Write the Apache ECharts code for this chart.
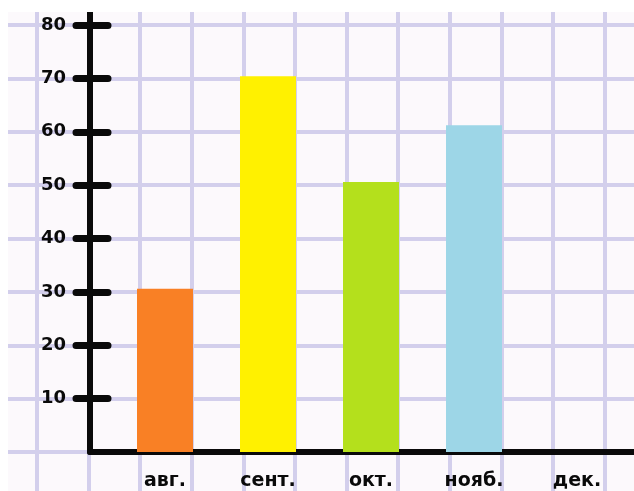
<!DOCTYPE html>
<html lang="ru">
<head>
  <meta charset="utf-8">
  <title>Диаграмма по месяцам</title>
  <style>
    html, body { margin: 0; padding: 0; background: #fff; }
    #main { width: 634px; height: 491px; }
  </style>
</head>
<body>
  <div id="main"></div>
  <script src="https://cdn.jsdelivr.net/npm/echarts@6/dist/echarts.min.js"></script>
  <script>
    // данные
    var months = ['авг.', 'сент.', 'окт.', 'нояб.', 'дек.'];
    var values = [30.6, 70.4, 50.6, 61.2, 0];
    var barColors = ['#f98025', '#fff100', '#b4e01c', '#9dd6e7', '#9dd6e7'];
    var yTicks = [10, 20, 30, 40, 50, 60, 70, 80];

    var paperLine = '#d3cfec';
    var ink = '#0a0a0a';
    var font = 'DejaVu Sans';

    var myChart = echarts.init(document.getElementById('main'));

    var option = {
      backgroundColor: '#fcf9fc',
      animation: false,
      grid: [
        // 0: вертикальные линии клеток
        { left: 37, right: 29.4, top: 12, bottom: 0 },
        // 1: горизонтальные линии клеток
        { left: 8, right: 0, top: 25, bottom: 39 },
        // 2: оси
        { left: 90, right: 0, top: 12, bottom: 39 },
        // 3: столбики
        { left: 113.5, right: 5.5, top: 12, bottom: 39 }
      ],
      xAxis: [
        {
          gridIndex: 0, type: 'value', min: 0, max: 11, interval: 1,
          axisLine: { show: false }, axisTick: { show: false }, axisLabel: { show: false },
          splitLine: { show: true, lineStyle: { color: paperLine, width: 4 } }
        },
        {
          gridIndex: 1, type: 'value', min: 0, max: 1, show: false
        },
        {
          gridIndex: 2, type: 'value', min: 0, max: 1,
          axisLine: { show: true, onZero: false, lineStyle: { color: ink, width: 6, cap: 'round' } },
          axisTick: { show: false }, axisLabel: { show: false }, splitLine: { show: false }
        },
        {
          gridIndex: 3, type: 'category', data: months,
          axisLine: { show: false }, axisTick: { show: false },
          axisLabel: {
            margin: 20, color: ink, fontFamily: font, fontWeight: 'bold', fontSize: 19
          },
          splitLine: { show: false }
        }
      ],
      yAxis: [
        {
          gridIndex: 0, type: 'value', min: 0, max: 1, show: false
        },
        {
          gridIndex: 1, type: 'value', min: 0, max: 8, interval: 1,
          axisLine: { show: false }, axisTick: { show: false }, axisLabel: { show: false },
          splitLine: { show: true, lineStyle: { color: paperLine, width: 4 } }
        },
        {
          gridIndex: 2, type: 'value', min: 0, max: 82.44, position: 'left',
          axisLine: { show: true, onZero: false, lineStyle: { color: ink, width: 6, cap: 'round' } },
          axisTick: {
            show: true, length: 14, customValues: yTicks,
            lineStyle: { color: ink, width: 7, cap: 'round' }
          },
          axisLabel: {
            show: true, margin: 24, customValues: yTicks,
            color: ink, fontFamily: font, fontWeight: 'bold', fontSize: 18
          },
          splitLine: { show: false }
        },
        {
          gridIndex: 2, type: 'value', min: 0, max: 82.44, position: 'left',
          axisLine: { show: false },
          axisTick: {
            show: true, inside: true, length: 18, customValues: yTicks,
            lineStyle: { color: ink, width: 7, cap: 'round' }
          },
          axisLabel: { show: false }, splitLine: { show: false }
        },
        {
          gridIndex: 3, type: 'value', min: 0, max: 82.44, show: false
        }
      ],
      series: [{
        type: 'bar',
        xAxisIndex: 3,
        yAxisIndex: 4,
        barWidth: 56,
        z: 1,
        data: values.map(function (v, i) {
          return { value: v, itemStyle: { color: barColors[i] } };
        })
      }],
      // белые поля вокруг листа
      graphic: [
        { type: 'rect', z: 100, shape: { x: 0, y: 0, width: 634, height: 12 }, style: { fill: '#fff' } },
        { type: 'rect', z: 100, shape: { x: 0, y: 0, width: 8, height: 491 }, style: { fill: '#fff' } }
      ]
    };

    myChart.setOption(option);
  </script>
</body>
</html>
